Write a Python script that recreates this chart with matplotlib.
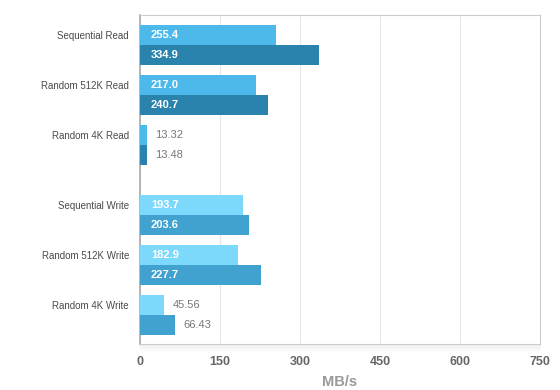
import matplotlib
matplotlib.use("Agg")
import matplotlib.pyplot as plt
import numpy as np
from matplotlib.transforms import offset_copy

categories = ["Sequential Read", "Random 512K Read", "Random 4K Read",
              "Sequential Write", "Random 512K Write", "Random 4K Write"]
series_a = [255.4, 217.0, 13.32, 193.7, 182.9, 45.56]
series_b = [334.9, 240.7, 13.48, 203.6, 227.7, 66.43]
labels_a = ["255.4", "217.0", "13.32", "193.7", "182.9", "45.56"]
labels_b = ["334.9", "240.7", "13.48", "203.6", "227.7", "66.43"]
xticks = [0, 150, 300, 450, 600, 750]

plt.rcParams['font.family'] = ['Liberation Sans', 'DejaVu Sans']

fig = plt.figure(figsize=(5.6, 3.9), dpi=100)

# subtle shadow under the plot area
sh = fig.add_axes([0.25, 0.095, 0.7143, 0.023])
grad = np.linspace(0.93, 1.0, 20).reshape(-1, 1)
sh.imshow(np.repeat(grad, 2, axis=1), cmap='gray', vmin=0, vmax=1,
          aspect='auto', extent=(0, 1, 0, 1))
sh.axis('off')

ax = fig.add_axes([0.25, 0.118, 0.7143, 0.8435])

col_a = ["#4DB9EB", "#4DB9EB", "#4DB9EB", "#7DD9FC", "#7DD9FC", "#7DD9FC"]
col_b = ["#2A83AD", "#2A83AD", "#2A83AD", "#41A1CF", "#41A1CF", "#41A1CF"]

h = 0.4
centers = [i + (0.4 if i >= 3 else 0) for i in range(len(categories))]
for i, c in enumerate(centers):
    ax.barh(c - h / 2, series_a[i], height=h, color=col_a[i], zorder=3)
    ax.barh(c + h / 2, series_b[i], height=h, color=col_b[i], zorder=3)
    for val, lab, yy in ((series_a[i], labels_a[i], c - h / 2),
                         (series_b[i], labels_b[i], c + h / 2)):
        if val > 100:
            tr = offset_copy(ax.transData, fig=fig, x=8, y=0, units='points')
            ax.text(0, yy, lab, transform=tr, ha='left', va='center',
                    color='white', fontsize=8, fontweight='bold', zorder=4)
        else:
            tr = offset_copy(ax.transData, fig=fig, x=6, y=0, units='points')
            ax.text(val, yy, lab, transform=tr, ha='left', va='center',
                    color='#777777', fontsize=8, zorder=4)

ax.set_xlim(0, 750)
ax.set_ylim(5.98, -0.6)
ax.set_xticks(xticks)
ax.set_xticklabels([str(t) for t in xticks], fontsize=9, color='#666666',
                   fontweight='bold')
ax.set_yticks([c - h / 2 for c in centers])
ax.set_yticklabels(categories, fontsize=7, color='#4A4A4A')
ax.tick_params(axis='both', length=0)
ax.tick_params(axis='x', pad=9)
ax.tick_params(axis='y', pad=8)
ax.grid(axis='x', color='#E6E6E6', linewidth=0.8, zorder=0)
ax.set_axisbelow(True)
for s in ['top', 'right', 'bottom']:
    ax.spines[s].set_color('#CCCCCC')
    ax.spines[s].set_linewidth(0.8)
ax.spines['left'].set_color('#AAAAAA')
ax.spines['left'].set_linewidth(1.2)
ax.set_xlabel("MB/s", fontsize=10.5, color='#999999', fontweight='bold',
              labelpad=5)

fig.savefig("out.png", dpi=100, facecolor='white')
